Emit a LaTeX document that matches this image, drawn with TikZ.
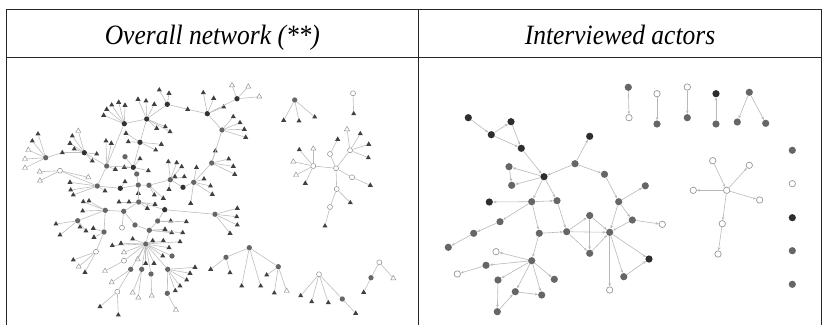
\documentclass[tikz,border=0pt]{standalone}
\usepackage{graphicx}
\usepackage{fontspec}
\setmainfont{Liberation Serif}
\usetikzlibrary{shapes.geometric,arrows.meta}
\tikzset{
 lt/.style={regular polygon,regular polygon sides=3,fill=black!75,draw=none,inner sep=0pt,minimum size=5.9pt},
 lo/.style={regular polygon,regular polygon sides=3,fill=white,draw=black!45,line width=0.45pt,inner sep=0pt,minimum size=5.9pt},
 ld/.style={circle,fill=black!80,inner sep=0pt,minimum size=5.3pt},
 lg/.style={circle,fill=black!60,inner sep=0pt,minimum size=5.3pt},
 lw/.style={circle,fill=white,draw=black!45,line width=0.5pt,inner sep=0pt,minimum size=5pt},
 le/.style={draw=black!26,line width=0.6pt},
 rd/.style={circle,fill=black!82,inner sep=0pt,minimum size=7.2pt},
 rg/.style={circle,fill=black!60,inner sep=0pt,minimum size=7.2pt},
 rw/.style={circle,fill=white,draw=black!40,line width=0.7pt,inner sep=0pt,minimum size=6.4pt},
 re/.style={draw=black!28,line width=0.6pt,-{Stealth[length=3.2pt,width=2.6pt]}},
 tablerule/.style={draw=black!85,line width=1.3pt},
 head/.style={font=\fontsize{28}{30}\selectfont\itshape,anchor=base,inner sep=0pt},
}
\newcommand\leafnode[5]{\node[#3] (#2) at (#4,#5) {}; \draw[le] (#1) -- (#2);}
\begin{document}
\begin{tikzpicture}[x=1pt,y=-1pt]
\useasboundingbox (0,0) rectangle (823,325);
% table
\coordinate (tl) at (6.5,9.3); \coordinate (tr) at (821.8,9.3);
\coordinate (ml) at (6.5,57.3); \coordinate (mr) at (821.8,57.3);
\coordinate (dt) at (418.3,9.3); \coordinate (db) at (418.3,325);
\coordinate (bl) at (6.5,325); \coordinate (br) at (821.8,325);
\draw[tablerule] (tl) -- (tr);
\draw[tablerule] (ml) -- (mr);
\draw[tablerule] (tl) -- (bl);
\draw[tablerule] (dt) -- (db);
\draw[tablerule] (tr) -- (br);
\node[head] (h1) at (212.4,44) {\scalebox{0.91}[1]{Overall network (**)}};
\node[head] (h2) at (620,44) {\scalebox{0.91}[1]{Interviewed actors}};
% ---------------- left: hubs
\node[ld] (A) at (167.3,104.3) {};
\node[ld] (B) at (146.7,119) {};
\node[ld] (C) at (124.3,123.7) {};
\node[ld] (E) at (140,142.3) {};
\node[ld] (F) at (84.3,152.7) {};
\node[lg] (K) at (45.7,157.7) {};
\node[lw] (L) at (60,170.7) {};
\node[lg] (G1) at (106.7,166) {};
\node[ld] (G2) at (133.3,167.3) {};
\node[lg] (G3) at (125,156.7) {};
\node[lg] (N) at (136.7,174) {};
\node[lg] (M) at (97.3,186) {};
\node[ld] (Q) at (120.3,188.3) {};
\node[lg] (P) at (138.3,185) {};
\node[lg] (R) at (149,185.3) {};
\node[lg] (T) at (170.3,179.7) {};
\node[ld] (U) at (183,187.3) {};
\node[lg] (V) at (193.7,182.3) {};
\node[lg] (W) at (211.7,163) {};
\node[lg] (X) at (222,130) {};
\node[ld] (Y) at (207.3,113.7) {};
\node[ld] (Z) at (237,98.7) {};
\node[lg] (S) at (138.7,202) {};
\node[ld] (AA) at (164.7,209.7) {};
\node[lg] (BB) at (215,214.3) {};
\node[lg] (CC) at (105.3,210.3) {};
\node[lg] (DD) at (123.7,211.3) {};
\node[lg] (FF) at (157.7,221) {};
\node[lg] (GG) at (149.3,230.3) {};
\node[lg] (II) at (135,225) {};
\node[lw] (JJ) at (122,227.7) {};
\node[lg] (KK) at (104,232) {};
\node[lg] (LL) at (77.7,220.7) {};
\node[lg] (HH) at (145.7,244) {};
\node[lw] (RR) at (96,251.7) {};
\node[lw] (SS) at (124,260.7) {};
\node[lg] (NN) at (130.7,269.3) {};
\node[lw] (TT) at (117.3,291.7) {};
\node[lg] (OO) at (141.7,269.3) {};
\node[lg] (PP) at (151,274) {};
\node[lg] (QQ) at (167.7,269.3) {};
\node[lg] (UU) at (167.3,293.3) {};
\node[lg] (MM) at (172,256) {};
\node[lg] (R1) at (226,257.3) {};
\node[lg] (R2) at (249.3,247.7) {};
\node[lg] (R3) at (278.3,266.7) {};
\node[lw] (R4) at (319,274.3) {};
\node[lg] (R5) at (342.3,299) {};
\node[lw] (R6) at (379.3,262.3) {};
\node[lg] (R7) at (371,277.7) {};
\node[lg] (S1) at (294.7,100) {};
\node[lw] (S2) at (353,93.3) {};
\node[lw] (S3) at (350,150.3) {};
\node[lw] (S4) at (330,154) {};
\node[lw] (S5) at (336,168.3) {};
\node[lw] (S6) at (313.3,166) {};
\node[lw] (S7) at (352,177.3) {};
\node[lw] (S8) at (336.7,189) {};
\node[lw] (S9) at (330,207) {};
% ---------------- left: leaves
\leafnode{A}{a1}{lt}{159.3}{90}
\leafnode{A}{a2}{lt}{169}{93.3}
\leafnode{A}{a3}{lt}{187.7}{109.3}
\leafnode{Y}{y1}{lt}{203.3}{92.7}
\leafnode{Y}{y2}{lt}{213.7}{98.3}
\leafnode{Y}{y3}{lt}{223.7}{107}
\leafnode{B}{b1}{lt}{138}{99.3}
\leafnode{B}{b2}{lt}{146}{101}
\leafnode{B}{b3}{lt}{154.3}{104.3}
\leafnode{B}{b4}{lt}{156.7}{128.3}
\leafnode{B}{b5}{lt}{165.3}{126.7}
\leafnode{B}{b6}{lt}{170}{131.7}
\leafnode{C}{c1}{lt}{106.7}{109.3}
\leafnode{C}{c2}{lt}{111.7}{105}
\leafnode{C}{c3}{lt}{118.7}{102.3}
\leafnode{C}{c4}{lt}{125}{105.3}
\leafnode{C}{c5}{lt}{103.7}{115.3}
\leafnode{E}{e1}{lt}{126}{133.3}
\leafnode{E}{e2}{lt}{128.3}{141.7}
\leafnode{E}{e3}{lt}{161.3}{144.3}
\leafnode{E}{e4}{lt}{155.7}{150}
\leafnode{F}{f1}{lo}{78.3}{131}
\leafnode{F}{f2}{lt}{72.3}{136}
\leafnode{F}{f3}{lt}{70}{143.3}
\leafnode{F}{f4}{lt}{74.3}{149}
\leafnode{F}{f5}{lt}{62.3}{152.7}
\leafnode{F}{f6}{lt}{96.7}{154}
\leafnode{F}{f7}{lt}{92.3}{161}
\leafnode{K}{k1}{lt}{38}{134}
\leafnode{K}{k2}{lt}{32.3}{141}
\leafnode{K}{k3}{lo}{28.3}{150}
\leafnode{K}{k4}{lo}{25}{159}
\leafnode{K}{k5}{lo}{25}{168}
\leafnode{L}{l1}{lo}{39.7}{171.7}
\leafnode{L}{l2}{lo}{40}{180.7}
\leafnode{L}{l3}{lo}{88.3}{177.3}
\leafnode{G1}{g1}{lt}{106}{141}
\leafnode{G1}{g2}{lt}{111.3}{143.3}
\leafnode{G1}{g3}{lt}{115.3}{169.3}
\leafnode{G2}{g4}{lt}{124.3}{167.3}
\leafnode{G2}{g5}{lt}{148.3}{170.7}
\leafnode{G2}{g6}{lt}{140}{158.7}
\leafnode{M}{mm1}{lt}{70}{182.3}
\leafnode{M}{mm2}{lt}{70.7}{190}
\leafnode{M}{mm3}{lt}{73.3}{195}
\leafnode{M}{mm4}{lt}{105}{191}
\leafnode{Q}{q1}{lt}{125}{181.7}
\leafnode{P}{p1}{lt}{138.3}{193.3}
\leafnode{R}{rr1}{lt}{154.3}{195}
\leafnode{R}{rr2}{lt}{163.3}{198.3}
\leafnode{T}{t1}{lt}{168.3}{161.7}
\leafnode{T}{t2}{lt}{176.7}{162.7}
\leafnode{T}{t3}{lt}{181.7}{166.7}
\leafnode{T}{t4}{lt}{175}{176.7}
\leafnode{T}{t5}{lt}{184.3}{176.7}
\leafnode{T}{t6}{lt}{169}{189.3}
\leafnode{V}{v1}{lt}{196.5}{167.5}
\leafnode{V}{v2}{lt}{204}{179}
\leafnode{V}{v3}{lt}{210.5}{186}
\leafnode{V}{v4}{lt}{212.3}{194.3}
\leafnode{V}{v5}{lt}{190.7}{203.3}
\leafnode{W}{w1}{lt}{215.3}{151}
\leafnode{W}{w2}{lt}{228.7}{159}
\leafnode{W}{w3}{lt}{233.3}{166.3}
\leafnode{W}{w4}{lt}{234.7}{174.3}
\leafnode{X}{x1}{lt}{233.3}{116.7}
\leafnode{X}{x2}{lt}{240}{122.7}
\leafnode{X}{x3}{lt}{244.3}{129.3}
\leafnode{X}{x4}{lt}{245.7}{137.3}
\leafnode{Z}{z1}{lo}{232}{85.3}
\leafnode{Z}{z2}{lo}{248.3}{86.7}
\leafnode{Z}{z3}{lo}{259.3}{96.7}
\leafnode{S}{s1}{lt}{119}{202}
\leafnode{S}{s2}{lt}{129}{202}
\leafnode{S}{s3}{lt}{155}{204.3}
\leafnode{S}{s4}{lt}{147.3}{208.3}
\leafnode{FF}{ff1}{lt}{170.7}{221}
\leafnode{FF}{ff2}{lt}{186.3}{221.7}
\leafnode{BB}{bb1}{lt}{237.3}{208.3}
\leafnode{BB}{bb2}{lt}{236.7}{216.7}
\leafnode{BB}{bb3}{lt}{237.3}{225}
\leafnode{BB}{bb4}{lt}{230}{233.3}
\leafnode{CC}{cc1}{lt}{83.3}{201.7}
\leafnode{CC}{cc2}{lt}{89}{201}
\leafnode{CC}{cc3}{lt}{82.7}{211}
\leafnode{KK}{kk1}{lt}{93.3}{228.3}
\leafnode{KK}{kk2}{lt}{94}{237.3}
\leafnode{LL}{ll1}{lt}{56}{224}
\leafnode{LL}{ll2}{lt}{60}{235}
\leafnode{LL}{ll3}{lt}{80}{227}
\leafnode{LL}{ll4}{lt}{86}{231}
\leafnode{GG}{gg1}{lt}{165}{229.3}
\leafnode{GG}{gg2}{lt}{171.7}{232.7}
\leafnode{GG}{gg3}{lt}{182.7}{232.7}
\leafnode{HH}{hh1}{lt}{152.7}{240.7}
\leafnode{HH}{hh2}{lt}{163.3}{240.7}
\leafnode{HH}{hh3}{lt}{180}{241.7}
\leafnode{HH}{hh4}{lt}{132.7}{239}
\leafnode{HH}{hh5}{lt}{121}{243.3}
\leafnode{HH}{hh6}{lt}{112.3}{245.5}
\leafnode{HH}{hh7}{lo}{137.7}{259.3}
\leafnode{HH}{hh8}{lt}{145.7}{263.3}
\leafnode{HH}{hh9}{lt}{154}{263.3}
\leafnode{HH}{hh10}{lt}{162.7}{256}
\leafnode{HH}{hh11}{lt}{169}{247.7}
\leafnode{HH}{hh12}{lo}{124}{252.3}
\leafnode{RR}{rra}{lt}{73.3}{260}
\leafnode{RR}{rrb}{lo}{78.7}{266.7}
\leafnode{RR}{rrc}{lt}{85}{272.3}
\leafnode{SS}{ss1}{lo}{105}{271}
\leafnode{NN}{nn1}{lo}{111.7}{282.3}
\leafnode{TT}{tt1}{lt}{100}{306.7}
\leafnode{TT}{tt2}{lt}{118.3}{315}
\leafnode{OO}{oo1}{lo}{132.7}{292.7}
\leafnode{OO}{oo2}{lo}{138.3}{297.7}
\leafnode{PP}{pp1}{lo}{151.7}{295.7}
\leafnode{QQ}{qq1}{lt}{195}{267.3}
\leafnode{QQ}{qq2}{lt}{190}{273.3}
\leafnode{QQ}{qq3}{lt}{186.7}{280}
\leafnode{QQ}{qq4}{lt}{180}{286}
\leafnode{QQ}{qq5}{lt}{175.3}{290.7}
\leafnode{UU}{uu1}{lo}{176}{310}
\leafnode{R1}{ra1}{lt}{210.7}{269.3}
\leafnode{R1}{ra2}{lt}{230}{272.7}
\leafnode{R2}{rb1}{lt}{241.7}{286}
\leafnode{R2}{rb2}{lt}{260.7}{286}
\leafnode{R3}{rc1}{lt}{266.7}{275}
\leafnode{R3}{rc2}{lt}{274.3}{293}
\leafnode{R3}{rc3}{lo}{286.7}{291}
\leafnode{R4}{rd1}{lt}{300.7}{295.7}
\leafnode{R4}{rd2}{lt}{311.7}{301.7}
\leafnode{R4}{rd3}{lt}{328.3}{302.7}
\leafnode{R5}{re1}{lt}{355.7}{313.3}
\leafnode{R6}{rf1}{lo}{393.3}{278.3}
\leafnode{R7}{rg1}{lt}{363.7}{292.3}
\leafnode{S1}{sa1}{lt}{283.7}{120.3}
\leafnode{S1}{sa2}{lt}{299}{121}
\leafnode{S1}{sa3}{lt}{314.7}{117}
\leafnode{S2}{sb1}{lt}{353.7}{113.7}
\leafnode{S3}{sc1}{lo}{347}{129.3}
\leafnode{S3}{sc2}{lt}{360.3}{133.7}
\leafnode{S3}{sc3}{lt}{368.7}{144.3}
\leafnode{S3}{sc4}{lt}{368.3}{157.7}
\leafnode{S4}{sd1}{lt}{337.7}{139.3}
\leafnode{S6}{sf1}{lt}{299.3}{149.7}
\leafnode{S6}{sf2}{lo}{313.3}{148.7}
\leafnode{S6}{sf3}{lo}{293.3}{161.7}
\leafnode{S6}{sf4}{lo}{296}{175}
\leafnode{S6}{sf5}{lt}{305.3}{183.3}
\leafnode{S7}{sg1}{lt}{370.3}{185.3}
\leafnode{S8}{sh1}{lt}{350.3}{202.7}
\leafnode{S9}{si1}{lt}{325}{226}
% ---------------- left: hub links
\foreach \a/\b in {A/B,a3/Y,B/C,B/E,C/G1,E/G2,f5/K,F/G1,L/M,G1/G2,G1/M,G2/G3,G2/N,N/P,M/Q,Q/P,P/R,P/S,R/T,T/U,U/V,V/W,W/X,X/Y,Y/Z,S/AA,S/DD,AA/BB,AA/FF,CC/DD,CC/LL,CC/KK,DD/II,DD/JJ,II/GG,FF/GG,GG/HH,HH/MM,HH/NN,HH/OO,HH/PP,HH/QQ,HH/SS,KK/RR,NN/TT,QQ/UU,R1/R2,R2/R3,R4/R5,R6/R7,S3/S5,S4/S5,S6/S5,S7/S5,S8/S5,S8/S9}
  \draw[le] (\a) -- (\b);
% ---------------- right panel
\node[rd] (nd1) at (468.3,117.7) {};
\node[rd] (nd2) at (491.3,134.7) {};
\node[rd] (nd3) at (511,121.7) {};
\node[rd] (nd4) at (521.3,148.3) {};
\node[rd] (nd5) at (544,176.7) {};
\node[rd] (nd6) at (489.3,202) {};
\node[rd] (nd7) at (589.7,136.3) {};
\node[rd] (nd8) at (649,259) {};
\node[rg] (nm1) at (509,166.7) {};
\node[rg] (nm2) at (511.7,185.3) {};
\node[rg] (nm3) at (531.7,201.7) {};
\node[rg] (nm4) at (557,200.7) {};
\node[rg] (nm5) at (575,163.7) {};
\node[rg] (nm6) at (604.5,174.3) {};
\node[rg] (nm7) at (618.7,201.7) {};
\node[rg] (nm8) at (500,221.7) {};
\node[rg] (nm9) at (473.7,233.3) {};
\node[rg] (nm10) at (448.3,247.3) {};
\node[rg] (nm11) at (539.3,233.3) {};
\node[rg] (nm12) at (566.7,231.7) {};
\node[rg] (nm13) at (589.7,215.5) {};
\node[rg] (nm14) at (589.7,253.3) {};
\node[rg] (nm15) at (609.7,232.3) {};
\node[rg] (nm16) at (645.3,185.8) {};
\node[rg] (nm17) at (632.3,220) {};
\node[rg] (nm18) at (623.8,276.7) {};
\node[rg] (nm19) at (531.7,260.7) {};
\node[rg] (nm20) at (486,265.3) {};
\node[rg] (nm21) at (498,280) {};
\node[rg] (nm22) at (554.3,279.3) {};
\node[rg] (nm23) at (515.3,291.7) {};
\node[rg] (nm24) at (541.7,295) {};
\node[rg] (nm25) at (497.3,311.7) {};
\node[rw] (no1) at (609.7,290) {};
\node[rw] (no2) at (496,251.7) {};
\node[rw] (no3) at (457.3,274) {};
\node[rw] (no4) at (662.3,224.3) {};
\foreach \a/\b in {nd1/nd2,nd2/nd3,nd3/nd4,nd2/nd4,nd4/nd5,nd5/nm1,nm1/nm2,nd5/nm2,nd5/nm3,nd5/nm4,nm5/nd5,nm5/nd7,nm5/nm6,nm6/nm7,nm7/nm16,nm7/nm17,nm17/no4,nm7/nm15,nm17/nm15,nm15/nd8,nm15/nm18,nm18/nd8,nm15/no1,nm3/nd6,nm3/nm4,nm3/nm8,nm8/nm9,nm9/nm10,nm3/nm11,nm4/nm12,nm11/nm12,nm12/nm13,nm12/nm14,nm13/nm14,nm12/nm15,nm13/nm15,nm14/nm15,nm11/nm19,nm19/no2,nm19/nm20,nm20/no3,nm19/nm21,nm19/nm22,nm19/nm23,nm19/nm24,nm23/nm24,nm21/nm25,nm25/nm23}
  \draw[re] (\a) -- (\b);
% small pairs
\node[rg] (np1) at (628.3,87.3) {};
\node[rw] (np2) at (629,117.7) {};
\node[rw] (np3) at (657,93.7) {};
\node[rg] (np4) at (657,124) {};
\node[rw] (np5) at (687.3,87) {};
\node[rg] (np6) at (687.3,117.7) {};
\node[rd] (np7) at (716,93.7) {};
\node[rg] (np8) at (716,124) {};
\node[rg] (np9) at (749.3,92.3) {};
\node[rg] (np10) at (737.3,122) {};
\node[rg] (np11) at (765.7,123.3) {};
\foreach \a/\b in {np1/np2,np3/np4,np5/np6,np8/np7,np9/np10,np9/np11}
  \draw[re] (\a) -- (\b);
% star
\node[rw] (nc0) at (726.7,190.3) {};
\node[rw] (nc1) at (712.7,160.7) {};
\node[rw] (nc2) at (749.3,165.3) {};
\node[rw] (nc3) at (693.3,190.3) {};
\node[rw] (nc4) at (759.7,200) {};
\node[rw] (nc5) at (722.3,223.7) {};
\node[rw] (nc6) at (718,254) {};
\foreach \a/\b in {nc1/nc0,nc0/nc2,nc0/nc3,nc0/nc4,nc0/nc5,nc5/nc6}
  \draw[re] (\a) -- (\b);
% isolates
\node[rg] (ni1) at (792.3,150.3) {};
\node[rw] (ni2) at (792.3,183.7) {};
\node[rd] (ni3) at (792.3,217.7) {};
\node[rg] (ni4) at (792.3,250.7) {};
\node[rg] (ni5) at (792.3,284.3) {};
\end{tikzpicture}
\end{document}
